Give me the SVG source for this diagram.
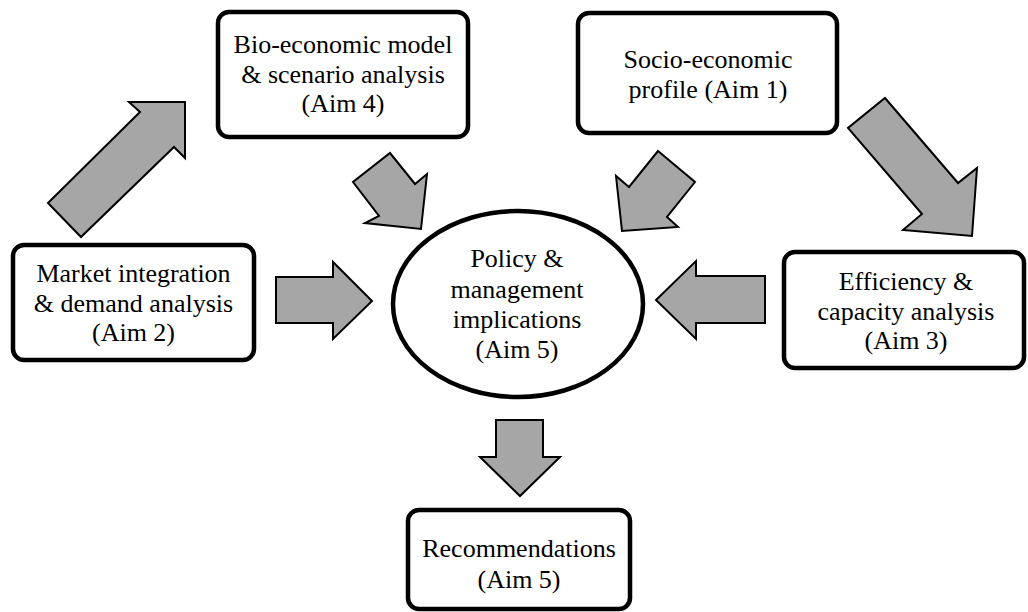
<svg xmlns="http://www.w3.org/2000/svg" width="1028" height="612" viewBox="0 0 1028 612">
<style>
.box{fill:#fff;stroke:#000;stroke-width:4.5}
.ell{fill:#fff;stroke:#000;stroke-width:4.5}
.arr{fill:#a6a6a6;stroke:#000;stroke-width:2;stroke-linejoin:miter}
.t{font-family:'Liberation Serif','Times New Roman',serif;font-size:26px;fill:#000;text-anchor:middle}
</style>
<rect width="1028" height="612" fill="#fff"/>
<g id="connectors">
<polygon class="arr" points="48,203 140,112 129,102 185,102 185,158 174,147 81,237"/>
<polygon class="arr" points="390,153 415,184 427,174 421,229 365,223 379,216 353,182"/>
<polygon class="arr" points="658,151 695,182 667,217 678,227 622,231 616,176 629,187"/>
<polygon class="arr" points="885,98 958,183 977,168 972,236 903,230 922,214 848,128"/>
<polygon class="arr" points="276,277 333,277 333,262 372,301 333,339 333,323 276,323"/>
<polygon class="arr" points="765,276 696,276 696,261 656,300 696,339 696,323 765,323"/>
<polygon class="arr" points="496,420 543,420 543,457 560,457 520,496 480,457 496,457"/>
</g>
<g id="bio">
<rect class="box" x="218" y="12" width="250" height="125" rx="11"/>
<text class="t" font-family="Liberation Serif, serif" x="343" y="53">Bio-economic model</text>
<text class="t" font-family="Liberation Serif, serif" x="343" y="83">&amp; scenario analysis</text>
<text class="t" font-family="Liberation Serif, serif" x="343" y="112">(Aim 4)</text>
</g>
<g id="socio">
<rect class="box" x="578" y="13" width="259" height="120" rx="11"/>
<text class="t" font-family="Liberation Serif, serif" x="708" y="68">Socio-economic</text>
<text class="t" font-family="Liberation Serif, serif" x="708" y="98">profile (Aim 1)</text>
</g>
<g id="market">
<rect class="box" x="13" y="245" width="241" height="115" rx="11"/>
<text class="t" font-family="Liberation Serif, serif" x="133.5" y="282">Market integration</text>
<text class="t" font-family="Liberation Serif, serif" x="133.5" y="312">&amp; demand analysis</text>
<text class="t" font-family="Liberation Serif, serif" x="133.5" y="341">(Aim 2)</text>
</g>
<g id="efficiency">
<rect class="box" x="784" y="252" width="240" height="116" rx="11"/>
<text class="t" font-family="Liberation Serif, serif" x="906" y="290">Efficiency &amp;</text>
<text class="t" font-family="Liberation Serif, serif" x="906" y="320">capacity analysis</text>
<text class="t" font-family="Liberation Serif, serif" x="906" y="349">(Aim 3)</text>
</g>
<g id="policy">
<ellipse class="ell" cx="518" cy="304" rx="125" ry="93"/>
<text class="t" font-family="Liberation Serif, serif" x="517" y="267">Policy &amp;</text>
<text class="t" font-family="Liberation Serif, serif" x="517" y="298">management</text>
<text class="t" font-family="Liberation Serif, serif" x="517" y="328">implications</text>
<text class="t" font-family="Liberation Serif, serif" x="517" y="358">(Aim 5)</text>
</g>
<g id="recommendations">
<rect class="box" x="408" y="510" width="222" height="99" rx="11"/>
<text class="t" font-family="Liberation Serif, serif" x="519" y="557">Recommendations</text>
<text class="t" font-family="Liberation Serif, serif" x="519" y="588">(Aim 5)</text>
</g>
</svg>
